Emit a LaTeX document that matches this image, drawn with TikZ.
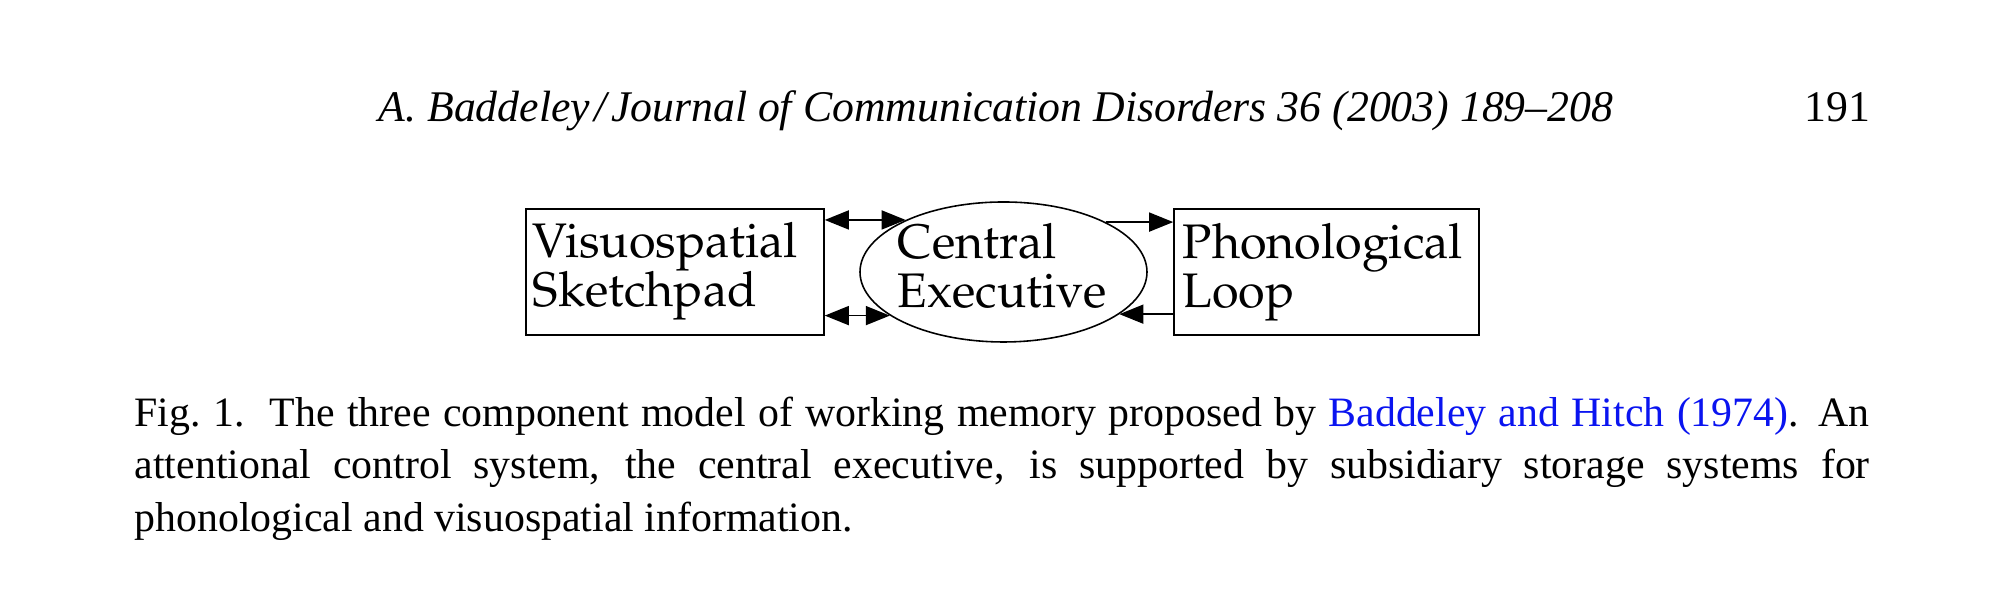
\documentclass[tikz,border=0pt]{standalone}
\usepackage[T1]{fontenc}
\usepackage{fontspec}
\setmainfont{Liberation Serif}
\usetikzlibrary{shapes.geometric,arrows.meta}
\definecolor{linkblue}{RGB}{10,20,240}
\newcommand{\palfont}{\fontencoding{T1}\fontfamily{ppl}\selectfont}
\tikzset{
	box/.style={draw, line width=0.45pt, minimum width=#1, minimum height=1.26cm, inner sep=0pt},
	oval/.style={draw, ellipse, line width=0.45pt, minimum width=2.87cm, minimum height=1.40cm, inner sep=0pt},
	lbl/.style={font=\palfont\fontsize{13.8}{14.2}\selectfont, align=left, anchor=base west, inner sep=0pt},
	head/.style={font=\fontsize{12.45}{14}\selectfont, inner sep=0pt},
	figcap/.style={font=\fontsize{11.9}{14.8}\selectfont, text width=17.35cm, align=justify, anchor=base west, inner sep=0pt},
	arr/.style={line width=0.45pt, -{Triangle[length=2.4mm,width=1.9mm]}},
	dbl/.style={line width=0.45pt, {Triangle[length=2.4mm,width=1.9mm]}-{Triangle[length=2.4mm,width=1.9mm]}},
}
\begin{document}
\begin{tikzpicture}
		\useasboundingbox (0,0) rectangle (19.96,5.90);

		% running head
		\node[head, anchor=base west] (journal) at (3.78,4.68) {\itshape A.~Baddeley\kern0.1em/\kern0.1em Journal of Communication Disorders 36 (2003) 189--208};
		\node[head, anchor=base east] (page) at (18.71,4.68) {191};

		% the three components
		\node[box=2.98cm] (vs) at (6.75,3.18) {};
		\node[oval] (ce) at (10.035,3.18) {};
		\node[box=3.05cm] (pl) at (13.265,3.18) {};

		% labels, placed by the baseline of their last line
		\node[lbl] (vstext) at (5.32,2.83) {Visuospatial\\Sketchpad};
		\node[lbl] (cetext) at (8.97,2.82) {Central\\Executive};
		\node[lbl] (pltext) at (11.82,2.82) {Phonological\\Loop};

		\draw[dbl] (vs.east |- ce.152.6) -- (ce.152.6);
		\draw[dbl] (vs.east |- ce.201.5) -- (ce.201.5);
		\draw[arr] (ce.26.5) -- (pl.west |- ce.26.5);
		\draw[arr] (pl.west |- ce.340.6) -- (ce.340.6);

		% caption
		\node[figcap] (caption) at (1.34,1.63) {Fig.~1.\hspace{0.6em}The three component model of working memory proposed by \textcolor{linkblue}{Baddeley and Hitch (1974)}. An\linebreak attentional control system, the central executive, is supported by subsidiary storage systems for\linebreak phonological and visuospatial information.};
	\end{tikzpicture}
\end{document}
